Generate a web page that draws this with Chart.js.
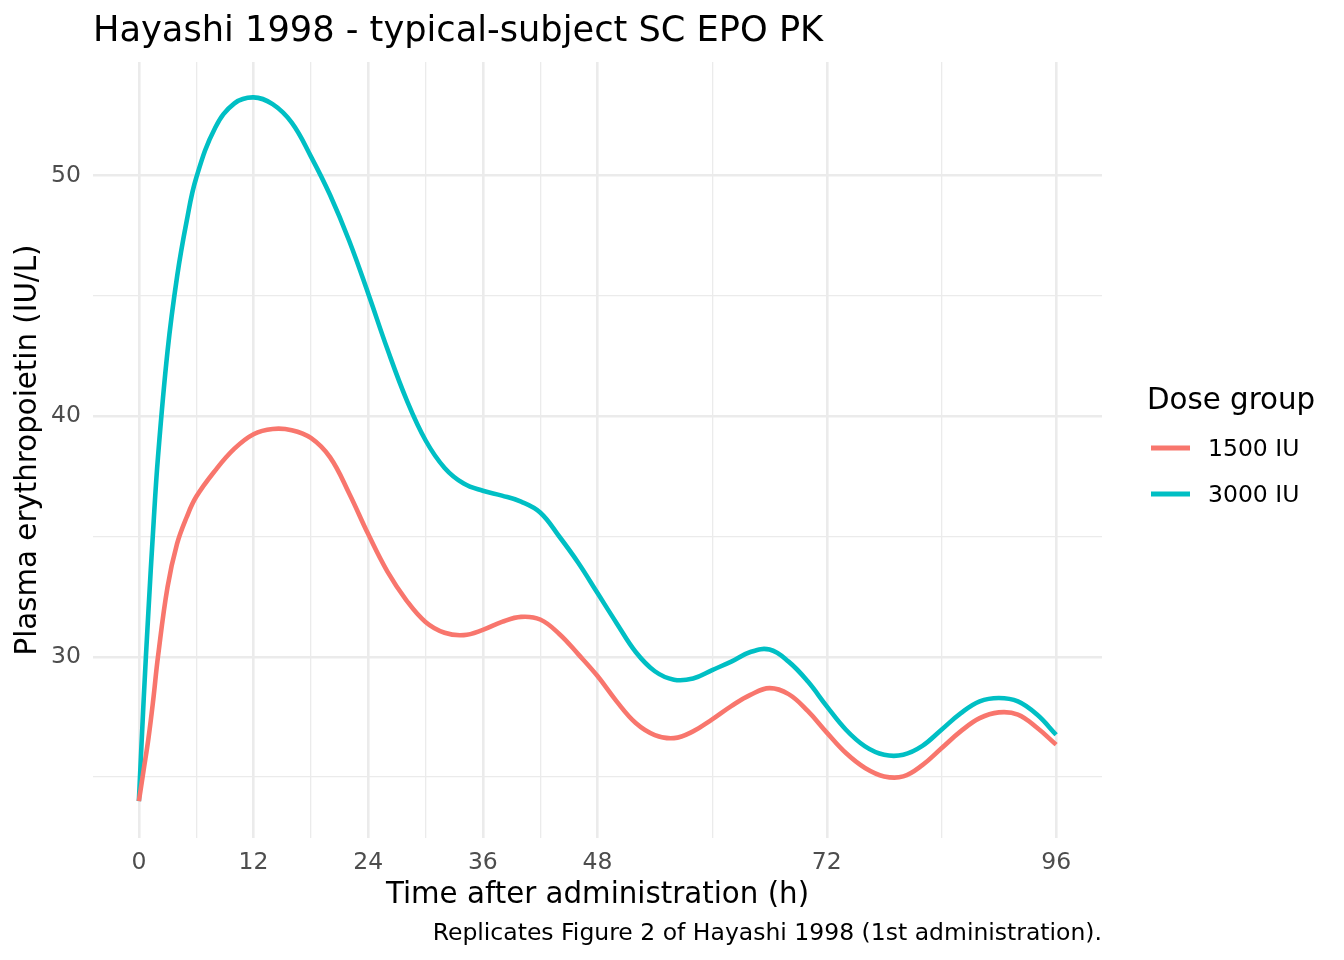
<!DOCTYPE html>
<html>
<head>
<meta charset="utf-8">
<script src="https://cdn.jsdelivr.net/npm/chart.js@4.4.1/dist/chart.umd.min.js"></script>
<style>
  html, body { margin: 0; padding: 0; background: #ffffff; }
  #wrap { width: 1344px; height: 960px; position: relative; }
</style>
</head>
<body>
<div id="wrap"><canvas id="c" width="1344" height="960"></canvas></div>
<script>
// ---- data ----
const times = [0, 0.5, 1, 1.5, 2, 3, 4, 5, 6, 8, 10, 12, 14, 16, 18, 20, 22, 24, 26, 28, 30, 32, 34, 36, 38, 40, 42, 44, 46, 48, 50, 52, 54, 56, 58, 60, 62, 64, 66, 68, 70, 72, 74, 76, 78, 80, 82, 84, 86, 88, 90, 92, 94, 96];
const dose1500 = [24.0, 25.3, 26.6, 28.2, 30.0, 32.9, 34.7, 35.8, 36.65, 37.75, 38.65, 39.25, 39.47, 39.42, 39.1, 38.3, 36.8, 35.1, 33.55, 32.35, 31.45, 31.0, 30.9, 31.12, 31.45, 31.66, 31.55, 30.95, 30.1, 29.2, 28.15, 27.25, 26.75, 26.62, 26.9, 27.4, 27.95, 28.42, 28.7, 28.45, 27.75, 26.85, 26.0, 25.38, 25.03, 25.03, 25.5, 26.2, 26.9, 27.45, 27.69, 27.6, 27.05, 26.35];
const dose3000 = [24.0, 28.2, 31.9, 35.3, 38.3, 42.7, 45.8, 48.1, 49.9, 52.0, 53.0, 53.25, 52.97, 52.2, 50.8, 49.2, 47.3, 45.1, 42.8, 40.7, 39.0, 37.85, 37.2, 36.9, 36.7, 36.45, 36.0, 35.0, 33.9, 32.65, 31.4, 30.2, 29.4, 29.05, 29.1, 29.45, 29.8, 30.2, 30.3, 29.8, 28.98, 27.94, 26.97, 26.28, 25.93, 25.93, 26.3, 26.97, 27.65, 28.15, 28.29, 28.15, 27.6, 26.76];
const seriesNames = ["1500 IU", "3000 IU"];
const seriesColors = ["#F8766D", "#00BFC4"];
const xMajorTicks = [0, 12, 24, 36, 48, 72, 96];
const xMinorTicks = [6, 18, 30, 42, 60, 84];
const yMajorTicks = [30, 40, 50];
const yMinorTicks = [25, 35, 45];

const titleText = "Hayashi 1998 - typical-subject SC EPO PK";
const xTitle = "Time after administration (h)";
const yTitle = "Plasma erythropoietin (IU/L)";
const captionText = "Replicates Figure 2 of Hayashi 1998 (1st administration).";
const legendTitle = "Dose group";

const FONT = "'DejaVu Sans', 'Liberation Sans', sans-serif";

function toPoints(vals) { return times.map((t, i) => ({ x: t, y: vals[i] })); }

const xAll = xMajorTicks.concat(xMinorTicks).sort((a, b) => a - b);
const yAll = yMajorTicks.concat(yMinorTicks).sort((a, b) => a - b);

const decorPlugin = {
  id: 'decor',
  afterDraw(chart) {
    const ctx = chart.ctx;
    const area = chart.chartArea;
    ctx.save();
    ctx.fillStyle = '#000000';
    ctx.textBaseline = 'alphabetic';
    ctx.textAlign = 'left';
    ctx.font = `35.2px ${FONT}`;
    ctx.fillText(titleText, area.left, 41);
    ctx.textAlign = 'right';
    ctx.font = `23.5px ${FONT}`;
    ctx.fillText(captionText, area.right, 940);
    ctx.textAlign = 'left';
    ctx.font = `29.3px ${FONT}`;
    ctx.fillText(legendTitle, 1147, 409);
    ctx.font = `23.5px ${FONT}`;
    const keyY = [448, 494];
    seriesNames.forEach((n, i) => {
      ctx.strokeStyle = seriesColors[i];
      ctx.lineWidth = 4.8;
      ctx.lineCap = 'butt';
      ctx.beginPath();
      ctx.moveTo(1151, keyY[i]);
      ctx.lineTo(1190, keyY[i]);
      ctx.stroke();
      ctx.fillStyle = '#000000';
      ctx.textBaseline = 'middle';
      ctx.fillText(n, 1208, keyY[i] + 2);
    });
    ctx.restore();
  }
};

new Chart(document.getElementById('c'), {
  type: 'line',
  data: {
    datasets: [
      { label: seriesNames[0], data: toPoints(dose1500), borderColor: seriesColors[0], backgroundColor: seriesColors[0],
        borderWidth: 4.6, pointRadius: 0, tension: 0.4, fill: false, borderCapStyle: 'butt', borderJoinStyle: 'round' },
      { label: seriesNames[1], data: toPoints(dose3000), borderColor: seriesColors[1], backgroundColor: seriesColors[1],
        borderWidth: 4.6, pointRadius: 0, tension: 0.4, fill: false, borderCapStyle: 'butt', borderJoinStyle: 'round' }
    ]
  },
  options: {
    responsive: false,
    animation: false,
    devicePixelRatio: 1,
    layout: { padding: { left: 0, top: 62, right: 242, bottom: 0 } },
    plugins: { legend: { display: false }, title: { display: false }, tooltip: { enabled: false } },
    scales: {
      x: {
        type: 'linear',
        min: -4.8, max: 100.8,
        afterBuildTicks: (s) => { s.ticks = xAll.map(v => ({ value: v })); },
        afterFit: (s) => { s.height = 122; },
        ticks: {
          autoSkip: false, maxRotation: 0, minRotation: 0, padding: 11,
          color: '#4D4D4D', font: { family: FONT, size: 23.5 },
          callback: (v) => xMajorTicks.includes(v) ? String(v) : ''
        },
        grid: {
          drawTicks: false,
          color: '#EBEBEB',
          lineWidth: (c) => (c.tick && xMajorTicks.includes(c.tick.value)) ? 2.6 : 1.3
        },
        border: { display: false },
        title: { display: true, text: xTitle, color: '#000000', font: { family: FONT, size: 29.3 }, padding: { top: 0, bottom: 47.4 } }
      },
      y: {
        type: 'linear',
        min: 22.47, max: 54.72,
        afterBuildTicks: (s) => { s.ticks = yAll.map(v => ({ value: v })); },
        afterFit: (s) => { s.width = 93; },
        ticks: {
          autoSkip: false, padding: 12,
          color: '#4D4D4D', font: { family: FONT, size: 23.5 },
          callback: (v) => yMajorTicks.includes(v) ? String(v) : ''
        },
        grid: {
          drawTicks: false,
          color: '#EBEBEB',
          lineWidth: (c) => (c.tick && yMajorTicks.includes(c.tick.value)) ? 2.6 : 1.3
        },
        border: { display: false },
        title: { display: true, text: yTitle, color: '#000000', font: { family: FONT, size: 29.3 }, padding: { top: 10.4, bottom: 0 } }
      }
    }
  },
  plugins: [decorPlugin]
});
</script>
</body>
</html>
